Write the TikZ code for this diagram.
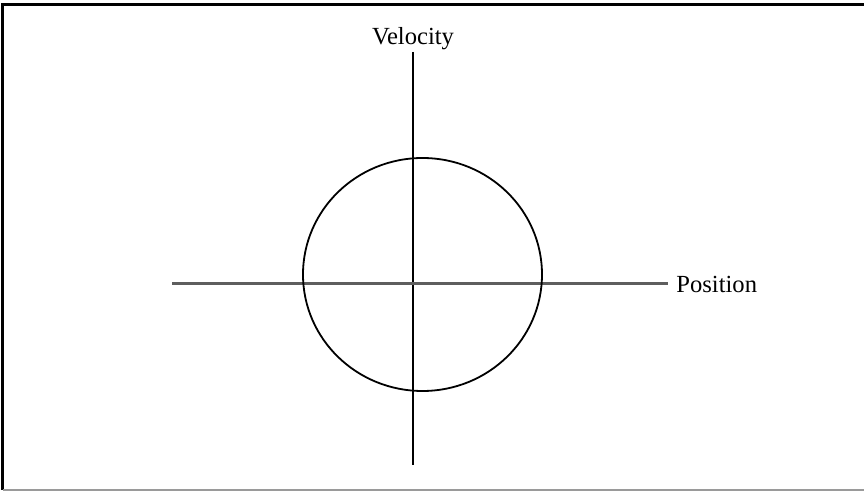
\documentclass[tikz,border=0pt]{standalone}
\usepackage{fontspec}
\setmainfont{Liberation Serif}
\usetikzlibrary{positioning}
\definecolor{axgray}{HTML}{5E5E5E}
\definecolor{framegray}{HTML}{9A9A9A}
\begin{document}
\begin{tikzpicture}[
  x=0.5pt, y=-0.5pt,
  font=\fontsize{12.3}{14}\selectfont,
  axis/.style={line width=1.1pt},
  haxis/.style={axgray, line width=1.5pt},
  orbit/.style={line width=0.9pt},
  lbl/.style={inner sep=1pt},
]
\useasboundingbox (0,0) rectangle (864,491);
% frame
\draw[line width=1.6pt] (864,4.5) -- (2.5,4.5) -- (2.5,490);
\draw[framegray, line width=1pt] (2.5,490) -- (864,490);

% axes
\coordinate (vtop) at (413,52);
\coordinate (vbot) at (413,465);
\coordinate (hleft) at (172,284);
\coordinate (hright) at (668,284);
\draw[axis] (vtop) -- (vbot);
\draw[haxis] (hleft) -- (hright);

\node[lbl, above=0pt of vtop] (vel) {Velocity};
\node[lbl, right=3pt of hright] (pos) {Position};

% phase orbit
\coordinate (c) at (422.5,274.5);
\draw[orbit] (c) ellipse [x radius=119.5, y radius=116.5];
\end{tikzpicture}
\end{document}
